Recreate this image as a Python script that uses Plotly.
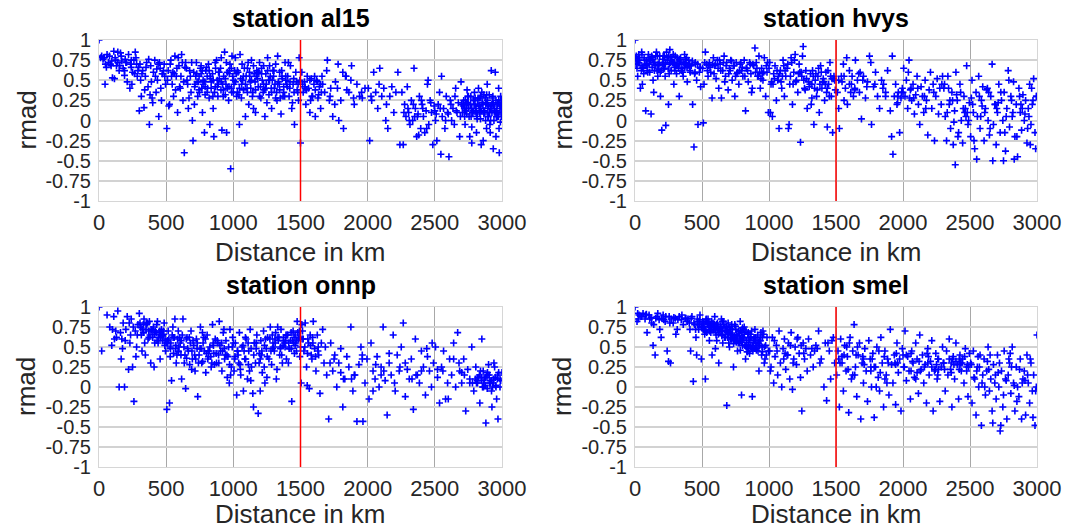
import plotly.graph_objects as go

# ---------------- data ----------------
stations = ["al15", "hvys", "onnp", "smel"]
x_ticks = [0, 500, 1000, 1500, 2000, 2500, 3000]
y_ticks = [-1, -0.75, -0.5, -0.25, 0, 0.25, 0.5, 0.75, 1]
y_tick_text = ["-1", "-0.75", "-0.5", "-0.25", "0", "0.25", "0.5", "0.75", "1"]
threshold_km = 1500

al15_km = [
    0, 20, 30, 45, 60, 70, 85, 100, 110, 120,
    130, 140, 150, 160, 170, 180, 190, 200, 210, 220,
    230, 240, 250, 260, 270, 280, 290, 35, 55, 95,
    115, 165, 205, 245, 285,
    300, 305, 315, 325, 335, 345, 355, 365, 375, 385,
    395, 405, 415, 425, 435, 445, 455, 465, 475, 485,
    495, 310, 340, 370, 400, 430, 460, 490, 380, 450,
    505, 515, 525, 535, 545, 555, 565, 575, 585, 595,
    605, 615, 625, 635, 645, 655, 665, 675, 685, 695,
    510, 530, 550, 570, 590, 610, 630, 650, 670, 690,
    520, 560, 600, 640, 700,
    705, 715, 725, 735, 745, 755, 765, 775, 785, 795,
    805, 815, 825, 835, 845, 855, 865, 875, 885, 895,
    905, 915, 925, 935, 945, 955, 965, 975, 985, 995,
    710, 740, 770, 800, 830, 860, 890, 920, 950, 980,
    720, 760, 790, 820, 850, 880, 910, 940, 970, 990,
    1005, 1015, 1025, 1035, 1045, 1055, 1065, 1075, 1085, 1095,
    1105, 1115, 1125, 1135, 1145, 1155, 1165, 1175, 1185, 1195,
    1205, 1215, 1225, 1235, 1245, 1255, 1265, 1275, 1285, 1295,
    1305, 1315, 1325, 1335, 1345, 1355, 1365, 1375, 1385, 1395,
    1010, 1050, 1090, 1130, 1170, 1210, 1250, 1290, 1330, 1370,
    1030, 1070, 1110, 1150, 1190, 1230, 1270, 1310, 1350, 1390,
    1405, 1415, 1425, 1435, 1445, 1455, 1465, 1475, 1485, 1495,
    1410, 1440, 1470, 1490, 1500,
    1510, 1520, 1530, 1540, 1550, 1560, 1570, 1580, 1590, 1600,
    1610, 1620, 1630, 1640, 1650, 1660, 1680, 1700, 1720, 1740,
    1760, 1780, 1800, 1820, 1840, 1860, 1880, 1900, 1920, 1940,
    1960, 1980, 1515, 1545, 1575, 1605, 1635, 1665, 1695, 1725,
    1755, 1785, 1815, 1845, 1875,
    2005, 2015, 2030, 2045, 2060, 2075, 2090, 2105, 2120, 2135,
    2150, 2165, 2180, 2195, 2210, 2225, 2240, 2025, 2085, 2140,
    2255, 2265, 2275, 2285, 2295, 2305, 2315, 2325, 2335, 2345,
    2355, 2365, 2375, 2385, 2395, 2405, 2415, 2425, 2435, 2445,
    2455, 2465, 2475, 2485, 2495, 2505, 2515, 2525, 2535, 2545,
    2555, 2565, 2575, 2585, 2595, 2605, 2615, 2625, 2635, 2645,
    2655, 2665, 2675, 2685, 2695, 2300, 2350, 2400, 2450, 2500,
    2550, 2600, 2650, 2700, 2380,
    2705, 2715, 2725, 2735, 2745, 2755, 2765, 2775, 2785, 2795,
    2805, 2815, 2825, 2835, 2845, 2855, 2865, 2875, 2885, 2895,
    2905, 2915, 2925, 2935, 2945, 2955, 2965, 2975, 2985, 2995,
    2710, 2730, 2750, 2770, 2790, 2810, 2830, 2850, 2870, 2890,
    2910, 2930, 2950, 2970, 2990, 2720, 2760, 2800, 2840, 2880,
    2920, 2960, 3000, 2740, 2780, 2820, 2860, 2900, 2940, 2980,
    2745, 2805, 2865, 2925, 2985, 2775, 2835, 2895, 2955, 2995,
    12, 48, 78, 125, 155, 195, 235, 265, 275, 295,
    320, 350, 390, 420, 440, 470, 480, 540, 580, 620,
    660, 680, 712, 728, 748, 768, 788, 808, 828, 848,
    868, 888, 908, 928, 948, 968, 988, 1002, 1022, 1042,
    1062, 1082, 1102, 1122, 1142, 1162, 1182, 1202, 1222, 1242,
    1262, 1282, 1302, 1322, 1342, 1362, 1382, 1402, 1422, 1452,
    1482, 1535, 1585, 1625, 1655, 1715, 1775, 1835, 1895, 1955,
    2270, 2310, 2340, 2370, 2410, 2440, 2470, 2510, 2540, 2580,
    2620, 2660, 2690, 2712, 2728, 2738, 2752, 2768, 2782, 2798,
    2812, 2822, 2838, 2852, 2862, 2878, 2892, 2908, 2918, 2932,
    2942, 2958, 2968, 2978, 2992, 2998, 2802, 2858, 2912, 2962,
    730, 745, 760, 775, 790, 805, 820, 835, 850, 865,
    880, 895, 910, 925, 940, 955, 970, 985, 1000, 1015,
    1030, 1045, 1060, 1075, 1090, 1105, 1120, 1135, 1150, 1165,
    1180, 1195, 1210, 1225, 1240, 1255, 1270, 1285, 1300, 1315,
    1330, 1345, 1360, 1375, 1390, 1420, 1450, 1480, 1530, 1570,
    1610, 1650, 40, 90, 140, 190, 240, 2722, 2748, 2772,
    2788, 2808, 2828, 2842, 2868, 2882, 2898, 2914, 2928, 2948,
    2964, 2976, 2988, 2996, 2736, 2816, 2846, 2886, 2936, 2972,
]
al15_rmad = [
    1.00, 0.80, 0.76, 0.45, 0.82, 0.72, 0.70, 0.53, 0.86, 0.78,
    0.68, 0.85, 0.62, 0.84, 0.74, 0.65, 0.56, 0.72, 0.48, 0.82,
    0.40, 0.66, 0.60, 0.75, 0.85, 0.70, 0.62, 0.78, 0.66, 0.74,
    0.52, 0.80, 0.72, 0.45, 0.55,
    0.12, 0.70, 0.30, 0.62, 0.16, 0.55, 0.72, 0.42, -0.05, 0.68,
    0.28, 0.60, 0.75, 0.35, 0.50, 0.05, 0.65, 0.25, 0.58, 0.70,
    0.45, 0.50, 0.38, 0.76, 0.22, 0.64, 0.40, 0.55, 0.32, 0.72,
    -0.10, 0.62, 0.20, 0.75, 0.45, 0.30, 0.80, 0.55, 0.10, 0.68,
    0.40, 0.82, 0.25, -0.40, 0.72, 0.50, 0.15, 0.62, 0.35, 0.00,
    0.50, 0.70, 0.60, 0.38, 0.78, 0.55, 0.48, 0.65, 0.28, 0.72,
    0.18, 0.58, 0.42, 0.66, -0.25,
    0.60, 0.45, 0.72, 0.30, 0.55, 0.65, 0.40, 0.50, -0.15, 0.62,
    0.35, 0.70, -0.05, 0.48, 0.58, -0.20, 0.42, 0.75, 0.30, 0.52,
    0.65, -0.12, 0.38, 0.85, 0.45, 0.60, 0.25, 0.70, 0.40, 0.55,
    0.20, 0.48, 0.10, 0.66, 0.52, 0.35, 0.60, 0.45, -0.15, -0.60,
    0.55, 0.68, 0.42, 0.28, 0.15, 0.50, 0.78, 0.32, 0.62, 0.80,
    0.45, 0.78, 0.30, 0.60, -0.05, 0.52, 0.70, 0.38, -0.28, 0.55,
    0.65, 0.20, 0.48, 0.75, 0.35, 0.58, 0.10, 0.62, 0.42, 0.72,
    0.28, 0.50, 0.68, 0.05, 0.45, 0.78, 0.32, 0.55, 0.15, 0.62,
    0.40, 0.70, 0.25, 0.48, 0.60, 0.08, 0.52, 0.35, 0.72, 0.45,
    0.62, 0.82, 0.05, 0.40, 0.55, 0.65, 0.22, 0.50, 0.80, 0.30,
    0.35, 0.50, 0.72, 0.15, 0.60, 0.38, 0.68, 0.45, 0.28, 0.55,
    0.55, 0.30, 0.68, 0.15, 0.45, -0.05, 0.60, 0.38, 0.25, 0.50,
    0.72, 0.22, 0.48, 0.78, -0.28,
    0.60, 0.35, 0.48, 0.20, 0.55, 0.40, 0.10, 0.52, 0.30, 0.45,
    0.05, 0.50, 0.28, 0.42, 0.15, 0.55, 0.35, 0.75, 0.30, 0.05,
    0.48, 0.70, 0.25, -0.10, 0.55, 0.35, 0.68, 0.20, 0.45, 0.30,
    0.28, 0.40, 0.45, 0.38, 0.25, 0.55, 0.32, 0.45, 0.62, 0.40,
    0.20, 0.00, 0.60, 0.38, 0.50,
    0.40, -0.25, 0.25, 0.60, 0.35, 0.15, 0.65, 0.30, 0.40, 0.00,
    -0.10, 0.30, 0.42, 0.10, 0.35, 0.60, -0.30, 0.30, 0.45, 0.20,
    0.35, -0.30, 0.20, 0.05, 0.42, 0.10, -0.05, 0.25, 0.00, 0.65,
    0.15, -0.20, 0.08, 0.30, -0.10, 0.20, 0.05, -0.15, 0.12, 0.45,
    -0.05, 0.25, 0.10, -0.30, 0.18, 0.00, -0.25, 0.20, 0.35, -0.42,
    0.05, 0.15, -0.10, 0.30, 0.10, -0.45, 0.25, 0.00, 0.15, -0.05,
    0.40, 0.10, 0.22, -0.20, 0.48, 0.15, 0.05, 0.25, 0.50, 0.12,
    0.55, 0.08, 0.30, 0.20, -0.18,
    0.10, 0.25, -0.05, 0.15, 0.30, 0.05, 0.20, -0.28, 0.12, 0.35,
    0.18, 0.02, 0.40, 0.10, -0.30, 0.22, 0.08, 0.28, -0.10, 0.15,
    0.32, 0.00, 0.20, -0.35, 0.12, 0.25, 0.05, 0.40, 0.15, 0.10,
    0.20, 0.12, 0.30, 0.05, 0.25, -0.15, 0.18, 0.35, 0.10, 0.45,
    -0.05, 0.22, 0.60, 0.08, 0.30, 0.15, -0.20, 0.28, 0.02, 0.20,
    0.62, 0.12, 0.05, 0.38, 0.10, 0.25, -0.25, 0.18, 0.00, -0.40,
    0.22, 0.15, 0.32, 0.10, 0.20, -0.08, 0.28, 0.05, -0.20, 0.25,
    0.78, 0.70, 0.80, 0.75, 0.68, 0.76, 0.70, 0.58, 0.78, 0.66,
    0.58, 0.66, 0.48, 0.55, 0.70, 0.58, 0.62, 0.55, 0.65, 0.72,
    0.45, 0.55, 0.42, 0.58, 0.35, 0.62, 0.48, 0.40, 0.55, 0.30,
    0.65, 0.45, 0.38, 0.55, 0.72, 0.42, 0.35, 0.50, 0.58, 0.32,
    0.45, 0.65, 0.40, 0.55, 0.30, 0.48, 0.60, 0.42, 0.35, 0.58,
    0.50, 0.40, 0.62, 0.35, 0.45, 0.55, 0.30, 0.42, 0.48, 0.35,
    0.45, 0.40, 0.30, 0.48, 0.35, 0.25, 0.40, 0.55, 0.28, 0.35,
    0.10, 0.00, 0.20, 0.05, 0.15, -0.10, 0.22, 0.08, 0.15, 0.00,
    0.20, 0.12, 0.05, 0.18, 0.25, 0.08, 0.15, 0.30, 0.10, 0.20,
    0.05, 0.28, 0.15, 0.22, 0.12, 0.00, 0.25, 0.10, 0.18, 0.30,
    0.15, 0.05, 0.22, -0.10, 0.18, 0.05, 0.12, 0.20, -0.15, 0.08,
    0.48, 0.38, 0.58, 0.45, 0.32, 0.55, 0.62, 0.40, 0.50, 0.72,
    0.42, 0.60, 0.48, 0.30, 0.52, 0.40, 0.58, 0.65, 0.35, 0.48,
    0.62, 0.40, 0.28, 0.55, 0.45, 0.35, 0.60, 0.50, 0.68, 0.38,
    0.52, 0.30, 0.58, 0.45, 0.40, 0.62, 0.50, 0.35, 0.55, 0.28,
    0.45, 0.38, 0.62, 0.42, 0.50, 0.40, 0.52, 0.35, 0.42, 0.50,
    0.38, 0.45, 0.78, 0.68, 0.72, 0.62, 0.75, 0.05, 0.20, 0.15,
    0.25, 0.10, 0.18, 0.30, 0.12, 0.22, 0.05, 0.15, 0.28, 0.10,
    0.18, 0.25, -0.02, 0.15, 0.22, 0.08, 0.12, 0.32, 0.20, 0.05,
]

hvys_km = [
    0, 10, 20, 30, 40, 50, 60, 70, 80, 90,
    100, 110, 120, 130, 140, 150, 160, 170, 180, 190,
    200, 210, 220, 230, 240, 250, 260, 270, 280, 290,
    300, 310, 320, 330, 340, 350, 360, 370, 380, 390,
    400, 410, 420, 430, 440, 450, 460, 470, 480, 490,
    15, 35, 55, 75, 95, 115, 135, 155, 175, 195,
    215, 235, 255, 275, 295, 315, 335, 355, 375, 395,
    25, 65, 105, 145, 185, 225, 265, 305, 345, 385,
    505, 515, 525, 535, 545, 555, 565, 575, 585, 595,
    605, 615, 625, 635, 645, 655, 665, 675, 685, 695,
    705, 715, 725, 735, 745, 755, 765, 775, 785, 795,
    805, 815, 825, 835, 845, 855, 865, 875, 885, 895,
    510, 550, 590, 630, 670, 710, 750, 790, 830, 870,
    905, 915, 925, 935, 945, 955, 965, 975, 985, 995,
    1005, 1015, 1025, 1035, 1045, 1055, 1065, 1075, 1085, 1095,
    1105, 1115, 1125, 1135, 1145, 1155, 1165, 1175, 1185, 1195,
    1205, 1215, 1225, 1235, 1245, 1255, 1265, 1275, 1285, 1295,
    910, 950, 990, 1030, 1070, 1110, 1150, 1190, 1230, 1270,
    930, 1010, 1090, 1170, 1250,
    1305, 1315, 1325, 1335, 1345, 1355, 1365, 1375, 1385, 1395,
    1405, 1415, 1425, 1435, 1445, 1455, 1465, 1475, 1485, 1495,
    1310, 1340, 1370, 1400, 1430, 1460, 1490, 1320, 1380, 1440,
    1510, 1525, 1540, 1555, 1570, 1585, 1600, 1615, 1630, 1645,
    1660, 1675, 1690, 1705, 1720, 1735, 1750, 1765, 1780, 1795,
    1810, 1825, 1840, 1855, 1870, 1885, 1520, 1560, 1600, 1640,
    1680, 1520, 1580, 1620, 1760,
    1905, 1915, 1925, 1935, 1945, 1955, 1965, 1975, 1985, 1995,
    2005, 2015, 2025, 2035, 2045, 2055, 2065, 2075, 2085, 2095,
    2105, 2115, 2125, 2135, 2145, 2155, 2165, 2175, 2185, 2195,
    2205, 2215, 2225, 2235, 2245, 2255, 2265, 2275, 2285, 2295,
    1920, 1960, 2000, 2040, 2080,
    2305, 2315, 2325, 2335, 2345, 2355, 2365, 2375, 2385, 2395,
    2405, 2415, 2425, 2435, 2445, 2455, 2465, 2475, 2485, 2495,
    2505, 2515, 2525, 2535, 2545, 2555, 2565, 2575, 2585, 2595,
    2605, 2615, 2625, 2635, 2645, 2655, 2665, 2675, 2685, 2695,
    2705, 2715, 2725, 2735, 2745, 2755, 2765, 2775, 2785, 2795,
    2805, 2815, 2825, 2835, 2845, 2855, 2865, 2875, 2885, 2895,
    2905, 2915, 2925, 2935, 2945, 2955, 2965, 2975, 2985, 2995,
    2310, 2350, 2390, 2430, 2470, 2510, 2550, 2590, 2630, 2670,
    2710, 2750, 2790, 2830, 2870, 2910, 2950, 2990, 2380, 2480,
    5, 45, 85, 125, 165, 205, 245, 285, 325, 365,
    405, 445, 485, 12, 52, 92, 132, 172, 212, 252,
    292, 332, 372, 412, 452, 540, 580, 620, 660, 700,
    740, 780, 820, 860, 900, 940, 980, 1020, 1060, 1100,
    1140, 1180, 1220, 1260, 1300, 1330, 1360, 1390, 1420, 1450,
    1480, 1545, 1610, 1670, 1730, 1850, 1990, 2050, 2110, 2170,
    2230, 2290, 2330, 2370, 2410, 2450, 2490, 2530, 2570, 2610,
    2650, 2690, 2730, 2770, 2810, 2850, 2890, 2930, 2970, 2998,
    8, 28, 48, 68, 88, 108, 128, 148, 168, 188,
    208, 228, 248, 268, 288, 308, 328, 348, 368, 388,
    408, 428, 448, 468, 488, 520, 560, 600, 640, 680,
    720, 760, 800, 840, 880, 920, 960, 1000, 1040, 1080,
    1120, 1160, 1200, 1240, 1280, 1320, 1350, 1410, 1435, 1470,
    18, 58, 98, 138, 178, 218, 258, 298, 338, 378,
    2340, 2400, 2460, 2520, 2580, 2640, 2700, 2760, 2820, 2880,
    2940, 2960, 2160, 2060, 1960, 1870, 1790, 1700, 1640, 1560,
]
hvys_rmad = [
    1.00, 0.80, 0.55, 0.72, 0.40, 0.85, 0.65, 0.75, 0.12, 0.70,
    0.82, 0.60, 0.08, 0.78, 0.35, 0.68, 0.85, 0.55, 0.72, 0.30,
    -0.12, 0.80, 0.65, -0.06, 0.75, 0.20, 0.88, 0.62, 0.72, 0.45,
    0.80, 0.58, 0.70, 0.30, 0.78, 0.65, 0.55, 0.82, 0.72, 0.48,
    0.75, 0.62, 0.68, 0.20, -0.33, 0.72, 0.50, -0.05, 0.60, 0.42,
    0.65, 0.78, 0.45, 0.70, 0.60, 0.75, 0.50, 0.80, 0.68, 0.62,
    0.72, 0.85, 0.58, 0.74, 0.66, 0.78, 0.70, 0.60, 0.76, 0.68,
    0.75, 0.58, 0.70, 0.62, 0.80, 0.55, 0.72, 0.68, 0.62, 0.78,
    0.65, 0.45, 0.85, 0.70, 0.55, 0.72, 0.60, 0.28, 0.78, 0.68,
    0.52, 0.75, 0.40, 0.70, 0.28, 0.62, 0.80, 0.55, 0.72, 0.38,
    0.65, 0.75, 0.50, 0.68, 0.30, 0.72, 0.60, 0.45, 0.70, 0.62,
    0.55, 0.75, 0.12, 0.65, 0.48, 0.72, 0.58, 0.40, 0.68, 0.90,
    -0.03, 0.68, 0.58, 0.75, 0.48, 0.62, 0.55, 0.72, 0.65, 0.35,
    0.72, 0.55, 0.80, 0.40, 0.65, 0.50, 0.78, 0.30, 0.60, 0.10,
    0.72, 0.45, 0.05, 0.58, 0.68, 0.25, 0.50, -0.10, 0.62, 0.40,
    0.75, 0.30, 0.55, 0.65, -0.10, 0.45, 0.78, 0.20, 0.60, 0.82,
    0.50, 0.35, 0.70, -0.27, 0.55, 0.92, 0.40, 0.62, 0.15, 0.48,
    0.65, 0.58, 0.72, 0.45, 0.55, 0.68, -0.05, 0.75, 0.60, 0.38,
    0.60, 0.10, 0.48, 0.72, 0.80,
    0.45, 0.20, 0.62, -0.05, 0.50, 0.30, 0.55, 0.10, 0.68, 0.40,
    0.52, 0.25, 0.60, -0.08, 0.45, 0.72, 0.30, -0.15, 0.55, 0.38,
    0.58, 0.40, 0.65, 0.48, 0.35, 0.55, 0.50, 0.28, 0.45, 0.62,
    0.35, -0.10, 0.55, 0.70, 0.40, 0.20, 0.62, 0.45, 0.30, 0.75,
    0.50, 0.35, 0.02, 0.55, 0.28, 0.48, 0.80, -0.05, 0.42, 0.60,
    0.30, 0.15, 0.50, 0.45, 0.30, 0.62, 0.50, 0.25, 0.45, 0.38,
    0.60, 0.15, 0.78, 0.55, 0.72,
    0.12, -0.20, -0.42, 0.30, 0.45, 0.20, 0.35, -0.15, 0.28, 0.40,
    0.65, 0.30, 0.50, 0.15, 0.75, 0.38, 0.25, 0.45, 0.08, 0.32,
    0.55, 0.20, -0.05, 0.42, 0.30, 0.10, 0.50, 0.25, -0.18, 0.38,
    0.60, 0.15, 0.45, -0.25, 0.30, 0.52, 0.08, 0.40, 0.20, 0.55,
    0.80, 0.22, 0.35, 0.60, 0.28,
    0.40, 0.05, -0.25, 0.55, 0.20, -0.10, 0.35, -0.30, 0.12, 0.60,
    0.25, -0.15, 0.45, 0.00, -0.28, 0.30, 0.15, 0.68, -0.05, 0.22,
    -0.20, 0.50, 0.10, -0.35, 0.35, 0.05, 0.55, -0.10, 0.25, 0.42,
    -0.25, 0.15, 0.38, 0.00, -0.18, 0.30, 0.70, -0.05, 0.20, -0.30,
    0.10, 0.45, -0.15, 0.25, 0.00, 0.35, -0.38, 0.15, 0.62, -0.08,
    0.30, 0.05, 0.48, -0.20, 0.20, -0.45, 0.40, 0.10, -0.12, 0.32,
    0.00, 0.25, -0.28, 0.15, 0.45, -0.05, 0.20, 0.52, -0.15, 0.30,
    0.45, 0.25, -0.55, 0.35, 0.05, 0.28, -0.48, 0.18, 0.40, -0.50,
    0.22, -0.50, 0.50, -0.48, 0.30, 0.08, -0.30, -0.35, -0.02, 0.10,
    0.78, 0.68, 0.75, 0.80, 0.62, 0.70, 0.78, 0.82, 0.65, 0.72,
    0.70, 0.58, 0.66, 0.70, 0.82, 0.62, 0.76, 0.70, 0.64, 0.80,
    0.72, 0.76, 0.66, 0.60, 0.70, 0.62, 0.70, 0.65, 0.72, 0.58,
    0.68, 0.62, 0.55, 0.70, 0.60, 0.52, 0.68, 0.48, 0.62, 0.55,
    0.70, 0.45, 0.58, 0.50, 0.42, 0.55, 0.38, 0.60, 0.45, 0.30,
    0.52, 0.48, 0.35, 0.58, 0.42, 0.40, 0.35, 0.28, 0.40, 0.15,
    0.35, 0.45, 0.10, 0.25, -0.20, 0.15, 0.00, -0.25, 0.30, 0.10,
    -0.10, 0.20, 0.35, 0.05, 0.25, -0.20, 0.15, -0.10, 0.25, 0.30,
    0.70, 0.82, 0.62, 0.78, 0.68, 0.74, 0.66, 0.72, 0.80, 0.60,
    0.76, 0.70, 0.64, 0.78, 0.72, 0.68, 0.74, 0.62, 0.70, 0.66,
    0.68, 0.74, 0.60, 0.70, 0.65, 0.72, 0.66, 0.70, 0.62, 0.68,
    0.74, 0.58, 0.66, 0.62, 0.70, 0.55, 0.60, 0.65, 0.52, 0.58,
    0.62, 0.55, 0.48, 0.60, 0.52, 0.45, 0.58, 0.48, 0.40, 0.52,
    0.74, 0.66, 0.78, 0.72, 0.64, 0.80, 0.70, 0.62, 0.74, 0.70,
    0.40, 0.32, 0.10, 0.20, 0.05, 0.35, 0.15, -0.15, 0.10, 0.20,
    0.05, 0.40, 0.30, 0.40, 0.30, 0.35, 0.45, 0.50, 0.40, 0.55,
]

onnp_km = [
    0, 20, 60, 80, 95, 110, 125, 140, 150, 160,
    170, 180, 190, 200, 210, 220, 230, 240, 250, 260,
    270, 280, 290, 300, 100, 130, 165, 195, 225, 255,
    285, 115, 175, 235, 275,
    305, 315, 325, 335, 345, 355, 365, 375, 385, 395,
    405, 415, 425, 435, 445, 455, 465, 475, 485, 495,
    505, 515, 525, 535, 545, 555, 565, 575, 585, 595,
    310, 340, 370, 400, 430, 460, 490, 520, 550, 580,
    320, 360, 410, 450, 480, 510, 540, 570, 600, 330,
    390, 440, 470, 530, 590,
    605, 615, 625, 635, 645, 655, 665, 675, 685, 695,
    705, 715, 725, 735, 745, 755, 765, 775, 785, 795,
    805, 815, 825, 835, 845, 855, 865, 875, 885, 895,
    905, 915, 925, 935, 945, 955, 965, 975, 985, 995,
    610, 650, 690, 730, 770, 810, 850, 890, 930, 970,
    620, 660, 700, 740, 780, 820, 860, 900, 940, 980,
    1005, 1015, 1025, 1035, 1045, 1055, 1065, 1075, 1085, 1095,
    1105, 1115, 1125, 1135, 1145, 1155, 1165, 1175, 1185, 1195,
    1205, 1215, 1225, 1235, 1245, 1255, 1265, 1275, 1285, 1295,
    1305, 1315, 1325, 1335, 1345, 1355, 1365, 1375, 1385, 1395,
    1405, 1415, 1425, 1435, 1445, 1455, 1465, 1475, 1485, 1495,
    1010, 1050, 1090, 1130, 1170, 1210, 1250, 1290, 1330, 1370,
    1410, 1450, 1490, 1350, 1390, 1430, 1470, 1310, 1150, 1200,
    1030, 1110, 1230, 1320, 1460,
    1505, 1515, 1525, 1535, 1545, 1555, 1565, 1575, 1585, 1595,
    1605, 1615, 1625, 1635, 1645, 1655, 1665, 1675, 1685, 1695,
    1510, 1550, 1590, 1630, 1560,
    1710, 1725, 1740, 1755, 1770, 1785, 1800, 1815, 1830, 1845,
    1860, 1875, 1890, 1905, 1920, 1935, 1950, 1965, 1980, 1995,
    2010, 2025, 2040, 2055, 2070, 2085, 2100, 2115, 2130, 2145,
    2160, 2175, 2190, 2205, 2220, 2235, 2250, 2265, 2280, 2295,
    2310, 2325, 2340, 2355, 2370, 2385, 2400, 2415, 2430, 2445,
    2460, 2475, 2490, 2505, 2520, 2535, 2550, 2565, 2580, 2595,
    2610, 2625, 2640, 2655, 2670, 2685, 2700, 2715, 2730, 2745,
    2760, 2775, 2790, 2805, 2820, 2835, 2850, 2865, 2880, 2895,
    2910, 2925, 2940, 2955, 2970, 2985, 3000, 2810, 2840, 2870,
    2900, 2930, 2960, 2990, 2825, 2855, 2885, 2915, 2945, 2975,
    1720, 1800, 1880, 1960, 2040, 2120, 2200, 2280, 2360, 2440,
    2520, 2600, 2680, 2760, 1750, 1900, 2060, 2160, 2330, 2480,
    330, 350, 380, 420, 440, 460, 480, 500, 530, 560,
    590, 640, 680, 720, 760, 800, 840, 880, 920, 960,
    1000, 1040, 1080, 1120, 1160, 1200, 1240, 1280, 1300, 1340,
    1360, 1380, 1400, 1420, 1440, 1460, 1480, 1500, 1520, 1580,
    2802, 2818, 2832, 2848, 2862, 2878, 2892, 2908, 2922, 2938,
    2952, 2968, 2560, 2640, 2720, 2400, 2240, 2100, 1960, 1820,
    312, 332, 352, 372, 392, 412, 432, 452, 472, 492,
    512, 532, 552, 572, 592, 612, 632, 652, 672, 692,
    712, 732, 752, 772, 792, 812, 832, 852, 872, 892,
    912, 932, 952, 972, 992, 1012, 1032, 1052, 1072, 1092,
    1112, 1132, 1152, 1172, 1192, 1212, 1232, 1252, 1272, 1292,
    1312, 1332, 1352, 1372, 1392, 1412, 1432, 1452, 1472, 1492,
    1512, 1532, 1552, 1572, 1592, 1612, 1632, 2815, 2845, 2875,
    2905, 2935, 2965, 2985, 2860, 2890, 2920, 2950, 2780, 2700,
]
onnp_rmad = [
    1.00, 0.45, 0.90, 0.75, 0.52, 0.88, 0.70, 0.95, 0.00, 0.68,
    0.60, 0.80, 0.00, 0.72, 0.88, 0.22, 0.55, 0.85, 0.25, -0.18,
    0.70, 0.50, 0.78, 0.92, 0.72, 0.62, 0.35, 0.58, 0.80, 0.75,
    0.65, 0.60, 0.48, 0.65, 0.38,
    0.80, 0.65, 0.72, 0.85, 0.40, 0.78, 0.60, 0.82, 0.30, 0.70,
    0.75, 0.55, 0.68, 0.82, 0.62, 0.35, 0.72, 0.58, 0.80, 0.45,
    -0.28, 0.70, -0.20, 0.55, 0.65, 0.42, 0.85, 0.30, 0.60, 0.50,
    0.75, 0.55, 0.70, 0.62, 0.78, 0.68, 0.52, 0.60, 0.75, 0.40,
    0.45, 0.80, 0.25, 0.65, 0.70, 0.58, 0.08, 0.48, 0.62, 0.68,
    0.72, 0.55, 0.65, 0.38, 0.70,
    0.55, 0.10, 0.85, 0.30, -0.02, 0.62, 0.45, 0.28, 0.70, 0.35,
    0.52, 0.20, 0.60, -0.12, 0.40, 0.75, 0.30, 0.55, 0.45, 0.18,
    0.65, 0.38, 0.50, 0.25, 0.78, 0.42, 0.60, 0.30, 0.55, 0.82,
    0.45, 0.20, 0.68, 0.35, 0.58, 0.12, 0.50, 0.72, 0.25, 0.62,
    0.40, 0.60, 0.22, 0.48, 0.68, 0.35, 0.55, 0.40, 0.72, 0.05,
    0.65, 0.48, 0.58, 0.30, 0.62, 0.45, 0.28, 0.52, 0.40, 0.15,
    0.20, 0.55, -0.10, 0.40, 0.68, 0.15, 0.50, -0.05, 0.35, 0.60,
    0.10, 0.45, 0.72, 0.25, -0.08, 0.55, 0.30, 0.65, -0.33, 0.42,
    0.58, 0.18, 0.70, 0.05, 0.48, 0.62, 0.35, 0.75, 0.28, 0.55,
    0.45, 0.68, 0.22, 0.58, 0.40, 0.72, 0.30, 0.62, 0.50, 0.35,
    0.65, 0.48, 0.58, -0.18, 0.70, 0.42, 0.55, 0.82, 0.60, 0.38,
    0.35, 0.28, 0.62, 0.08, 0.48, 0.40, 0.12, 0.65, 0.75, 0.52,
    0.30, 0.55, 0.62, 0.48, 0.58, 0.68, 0.45, 0.60, -0.25, -0.05,
    0.45, 0.55, 0.25, 0.10, 0.65,
    0.05, 0.70, 0.45, 0.80, 0.25, 0.60, -0.02, 0.52, 0.35, 0.82,
    0.48, 0.20, 0.65, 0.40, -0.08, 0.55, 0.72, 0.30, 0.50, 0.15,
    0.78, 0.02, 0.62, 0.45, 0.55,
    -0.40, 0.55, 0.20, 0.40, 0.00, 0.30, 0.48, -0.25, 0.10, 0.38,
    0.25, 0.75, -0.05, 0.15, -0.43, 0.28, 0.50, -0.43, 0.05, 0.35,
    -0.15, 0.55, 0.20, 0.10, 0.38, 0.00, 0.25, 0.75, 0.08, -0.35,
    0.30, 0.15, 0.65, -0.05, 0.40, 0.20, 0.50, 0.80, -0.12, 0.22,
    0.10, 0.35, -0.28, 0.60, 0.15, 0.05, 0.45, 0.25, -0.10, 0.38,
    0.20, 0.00, 0.30, 0.50, 0.12, -0.20, 0.25, 0.45, -0.15, 0.05,
    0.35, 0.15, 0.55, 0.00, 0.68, 0.20, 0.05, 0.35, -0.30, 0.22,
    0.10, 0.50, -0.05, 0.25, 0.12, -0.20, 0.60, 0.05, -0.45, 0.15,
    0.08, -0.25, 0.30, 0.00, -0.40, 0.10, 0.18, 0.05, 0.20, 0.10,
    0.28, 0.00, -0.15, 0.08, 0.12, 0.00, 0.15, 0.05, 0.25, 0.18,
    0.30, 0.18, 0.10, 0.40, -0.05, 0.20, 0.05, 0.30, 0.15, 0.48,
    0.22, -0.15, 0.30, 0.05, 0.35, 0.15, 0.28, 0.42, 0.10, 0.55,
    0.78, 0.72, 0.65, 0.70, 0.58, 0.62, 0.66, 0.55, 0.50, 0.62,
    0.45, 0.40, 0.55, 0.35, 0.48, 0.42, 0.30, 0.58, 0.45, 0.38,
    0.55, 0.30, 0.45, 0.20, 0.55, 0.35, 0.60, 0.45, 0.50, 0.62,
    0.40, 0.55, 0.65, 0.48, 0.58, 0.52, 0.68, 0.50, 0.60, 0.40,
    0.10, 0.05, 0.15, 0.08, 0.00, 0.12, 0.18, 0.05, -0.05, 0.10,
    0.02, 0.15, 0.20, 0.35, 0.15, 0.20, 0.25, 0.15, 0.35, 0.10,
    0.74, 0.68, 0.80, 0.62, 0.72, 0.66, 0.58, 0.70, 0.64, 0.60,
    0.55, 0.48, 0.62, 0.52, 0.44, 0.58, 0.50, 0.36, 0.62, 0.45,
    0.40, 0.55, 0.48, 0.32, 0.60, 0.45, 0.38, 0.52, 0.42, 0.30,
    0.55, 0.48, 0.40, 0.28, 0.50, 0.38, 0.45, 0.22, 0.52, 0.35,
    0.28, 0.48, 0.40, 0.55, 0.30, 0.45, 0.52, 0.38, 0.60, 0.48,
    0.55, 0.62, 0.50, 0.58, 0.65, 0.55, 0.48, 0.62, 0.58, 0.70,
    0.60, 0.50, 0.42, 0.65, 0.55, 0.38, 0.50, 0.08, 0.12, 0.02,
    0.15, 0.05, 0.10, 0.00, 0.20, -0.02, 0.08, 0.12, 0.05, 0.18,
]

smel_km = [
    0, 15, 30, 45, 60, 75, 90, 105, 120, 135,
    150, 165, 180, 195, 210, 225, 240, 255, 270, 285,
    300, 315, 330, 345, 360, 375, 390, 20, 50, 80,
    110, 140, 170, 200, 230, 260, 290, 320, 350, 380,
    25, 85, 125, 155, 185, 215, 250, 265, 305, 395,
    405, 415, 425, 435, 445, 455, 465, 475, 485, 495,
    505, 515, 525, 535, 545, 555, 565, 575, 585, 595,
    605, 615, 625, 635, 645, 655, 665, 675, 685, 695,
    705, 715, 725, 735, 745, 755, 765, 775, 785, 795,
    805, 815, 825, 835, 845, 855, 865, 875, 885, 895,
    905, 915, 925, 935, 945, 955, 965, 975, 985, 995,
    410, 440, 470, 500, 530, 560, 590, 620, 650, 680,
    710, 740, 770, 800, 830, 860, 890, 920, 950, 980,
    420, 460, 510, 550, 600, 640, 690, 730, 760, 790,
    820, 850, 880, 910, 940, 970, 480, 520, 570, 610,
    660, 700, 750, 780, 810, 840, 870, 900, 930, 960,
    1005, 1015, 1025, 1035, 1045, 1055, 1065, 1075, 1085, 1095,
    1105, 1115, 1125, 1135, 1145, 1155, 1165, 1175, 1185, 1195,
    1205, 1215, 1225, 1235, 1245, 1255, 1265, 1275, 1285, 1295,
    1310, 1330, 1350, 1370, 1390, 1410, 1430, 1450, 1470, 1490,
    1010, 1060, 1110, 1160, 1210, 1260, 1320, 1380, 1440, 1480,
    1040, 1140, 1240, 1340, 1460,
    1505, 1515, 1525, 1535, 1545, 1555, 1565, 1575, 1585, 1595,
    1605, 1615, 1625, 1635, 1645, 1655, 1665, 1675, 1685, 1695,
    1705, 1715, 1725, 1735, 1745, 1755, 1765, 1775, 1785, 1795,
    1805, 1815, 1825, 1835, 1845, 1855, 1865, 1875, 1885, 1895,
    1905, 1915, 1925, 1935, 1945, 1955, 1965, 1975, 1985, 1995,
    2005, 2015, 2025, 2035, 2045, 2055, 2065, 2075, 2085, 2095,
    2105, 2115, 2125, 2135, 2145, 2155, 2165, 2175, 2185, 2195,
    2205, 2215, 2225, 2235, 2245, 2255, 2265, 2275, 2285, 2295,
    2305, 2315, 2325, 2335, 2345, 2355, 2365, 2375, 2385, 2395,
    2405, 2415, 2425, 2435, 2445, 2455, 2465, 2475, 2485, 2495,
    1520, 1580, 1640, 1700, 1760, 1820, 1880, 1940, 2000, 2060,
    2120, 2180, 2240, 2300, 2360, 2420, 2480, 1600, 1800, 2260,
    2505, 2515, 2525, 2535, 2545, 2555, 2565, 2575, 2585, 2595,
    2605, 2615, 2625, 2635, 2645, 2655, 2665, 2675, 2685, 2695,
    2705, 2715, 2725, 2735, 2745, 2755, 2765, 2775, 2785, 2795,
    2805, 2815, 2825, 2835, 2845, 2855, 2865, 2875, 2885, 2895,
    2905, 2915, 2925, 2935, 2945, 2955, 2965, 2975, 2985, 2995,
    2510, 2550, 2590, 2630, 2670, 2710, 2750, 2790, 2830, 2870,
    2910, 2950, 2990, 3000, 2530, 2570, 2610, 2650, 2690, 2730,
    2770, 2810, 2850, 2890, 2930, 2970, 2560, 2640, 2720, 2800,
    512, 528, 542, 558, 572, 588, 602, 618, 632, 648,
    662, 678, 692, 708, 722, 738, 752, 768, 782, 798,
    812, 828, 842, 858, 872, 888, 902, 918, 932, 948,
    532, 568, 612, 652, 688, 722, 758, 792, 828, 862,
    898, 722, 802, 1120, 1180, 1360, 1420, 1560, 1660, 1760,
    1860, 1960, 2060, 2160, 2260, 2360, 2420, 2440, 2460, 2380,
    452, 468, 482, 498, 508, 522, 538, 552, 566, 582,
    596, 608, 622, 638, 654, 668, 684, 698, 712, 726,
    742, 756, 772, 786, 802, 816, 832, 846, 862, 876,
    892, 906, 922, 936, 952, 966, 546, 596, 646, 696,
    746, 796, 846, 896, 736, 786, 836, 1530, 1590, 1650,
    1710, 1770, 1830, 1890, 1950, 2010, 2070, 2130, 2190, 2250,
    2310, 2370, 2430, 2490, 1545, 1625, 1705, 1785, 1865, 1945,
    2025, 2105, 2185, 2265, 2345, 2425, 2475, 2395, 2215, 2095,
]
smel_rmad = [
    1.00, 0.82, 0.90, 0.88, 0.92, 0.85, 0.68, 0.90, 0.87, 0.52,
    0.40, 0.88, 0.84, 0.62, 0.90, 0.82, 0.45, 0.88, 0.85, 0.80,
    0.86, 0.72, 0.88, 0.84, 0.78, 0.86, 0.82, 0.92, 0.88, 0.90,
    0.85, 0.78, 0.92, 0.86, 0.88, 0.80, 0.87, 0.84, 0.90, 0.86,
    0.85, 0.91, 0.80, 0.86, 0.72, 0.84, 0.32, 0.30, 0.66, 0.85,
    0.80, 0.45, 0.88, 0.07, 0.78, 0.62, 0.85, 0.72, 0.90, 0.35,
    0.82, 0.75, 0.10, 0.68, 0.85, 0.58, 0.78, 0.40, 0.72, 0.88,
    0.65, 0.80, 0.30, 0.70, 0.85, 0.55, 0.75, 0.62, -0.23, 0.80,
    0.50, 0.72, 0.65, 0.25, 0.78, 0.58, 0.45, 0.70, 0.82, -0.10,
    0.60, 0.75, 0.35, 0.52, 0.68, 0.42, 0.62, -0.12, 0.55, 0.72,
    0.48, 0.65, 0.20, 0.58, 0.40, 0.70, 0.30, 0.52, 0.62, 0.45,
    0.72, 0.80, 0.82, 0.76, 0.84, 0.70, 0.78, 0.72, 0.66, 0.74,
    0.68, 0.60, 0.55, 0.62, 0.50, 0.66, 0.48, 0.56, 0.62, 0.40,
    0.86, 0.40, 0.72, 0.80, 0.48, 0.76, 0.70, 0.62, 0.58, 0.70,
    0.52, 0.60, 0.45, 0.50, 0.68, 0.35, 0.78, 0.66, 0.74, 0.58,
    0.82, 0.55, 0.76, 0.64, 0.72, 0.44, 0.70, 0.62, 0.52, 0.66,
    0.45, 0.25, 0.62, 0.05, 0.38, 0.52, 0.15, 0.70, 0.30, 0.00,
    0.48, 0.60, 0.22, 0.40, 0.55, 0.10, 0.68, -0.03, 0.35, 0.50,
    0.28, 0.62, 0.42, 0.12, -0.30, 0.55, 0.35, 0.48, 0.20, 0.60,
    0.40, 0.25, 0.52, 0.70, 0.35, 0.00, -0.17, 0.45, 0.58, 0.30,
    0.20, 0.45, 0.35, 0.52, 0.60, 0.42, 0.48, 0.30, 0.55, 0.62,
    0.58, 0.40, 0.52, 0.45, 0.10,
    0.15, 0.45, -0.25, 0.60, 0.30, -0.05, 0.52, 0.20, 0.38, -0.32,
    0.62, 0.10, 0.45, 0.78, 0.25, -0.12, 0.40, 0.55, -0.40, 0.30,
    0.05, 0.48, 0.20, -0.18, 0.58, 0.35, 0.00, 0.42, -0.38, 0.25,
    0.50, 0.12, -0.05, 0.62, 0.30, -0.25, 0.45, 0.15, 0.35, -0.10,
    0.72, 0.28, 0.05, 0.40, -0.22, 0.55, 0.18, 0.35, -0.30, 0.48,
    0.25, 0.70, 0.08, 0.38, 0.20, -0.15, 0.45, 0.30, 0.12, 0.55,
    0.35, -0.08, 0.65, 0.22, 0.40, 0.05, 0.28, -0.20, 0.48, 0.15,
    0.32, 0.58, -0.30, 0.20, 0.42, 0.10, 0.35, -0.18, 0.25, 0.50,
    0.30, -0.05, 0.45, 0.15, 0.60, 0.22, -0.25, 0.38, 0.10, 0.55,
    0.28, -0.15, 0.40, 0.20, 0.35, 0.05, 0.48, 0.25, -0.12, 0.42,
    0.35, 0.50, 0.15, 0.38, 0.25, 0.45, 0.05, 0.30, 0.40, 0.20,
    0.32, 0.42, 0.22, 0.30, 0.18, 0.35, 0.28, 0.55, 0.00, 0.15,
    0.30, -0.20, 0.45, 0.10, -0.35, 0.25, 0.00, 0.40, -0.48, 0.15,
    0.35, -0.10, 0.20, 0.50, -0.05, 0.10, -0.30, 0.28, 0.05, -0.15,
    0.40, 0.00, -0.55, 0.20, -0.25, 0.45, 0.10, -0.40, 0.15, 0.30,
    -0.08, 0.50, 0.05, -0.30, 0.25, 0.00, -0.12, 0.35, -0.40, 0.10,
    0.20, -0.35, 0.40, 0.05, -0.20, 0.30, -0.05, 0.15, -0.48, 0.00,
    0.28, 0.20, 0.05, 0.32, -0.45, 0.18, -0.10, 0.35, 0.02, 0.22,
    0.08, 0.35, -0.05, 0.65, 0.12, 0.25, 0.00, 0.40, 0.15, -0.48,
    0.08, 0.25, -0.18, 0.05, 0.15, -0.38, 0.38, 0.22, 0.30, 0.42,
    0.80, 0.72, 0.78, 0.70, 0.82, 0.74, 0.68, 0.76, 0.72, 0.64,
    0.78, 0.70, 0.62, 0.74, 0.66, 0.58, 0.72, 0.64, 0.55, 0.68,
    0.62, 0.52, 0.66, 0.56, 0.48, 0.62, 0.55, 0.45, 0.58, 0.50,
    0.85, 0.78, 0.74, 0.82, 0.68, 0.60, 0.66, 0.58, 0.70, 0.50,
    0.60, 0.78, 0.74, 0.42, 0.30, 0.48, 0.55, 0.40, 0.50, 0.20,
    0.38, 0.30, 0.42, 0.25, 0.35, 0.30, 0.22, 0.30, 0.38, 0.28,
    0.72, 0.78, 0.84, 0.74, 0.80, 0.70, 0.82, 0.76, 0.68, 0.80,
    0.72, 0.78, 0.66, 0.74, 0.70, 0.62, 0.76, 0.68, 0.60, 0.72,
    0.64, 0.56, 0.70, 0.60, 0.52, 0.66, 0.58, 0.48, 0.62, 0.52,
    0.58, 0.46, 0.54, 0.62, 0.44, 0.50, 0.80, 0.76, 0.70, 0.66,
    0.62, 0.56, 0.52, 0.48, 0.54, 0.46, 0.44, 0.30, 0.22, 0.40,
    0.28, 0.35, 0.18, 0.30, 0.42, 0.25, 0.32, 0.20, 0.38, 0.28,
    0.22, 0.35, 0.30, 0.25, 0.38, 0.15, 0.35, 0.25, 0.10, 0.28,
    0.40, 0.18, 0.30, 0.22, 0.35, 0.28, 0.20, 0.32, 0.25, 0.10,
]

series = {
    "al15": (al15_km, al15_rmad),
    "hvys": (hvys_km, hvys_rmad),
    "onnp": (onnp_km, onnp_rmad),
    "smel": (smel_km, smel_rmad),
}
for name, (xs, ys) in series.items():
    assert len(xs) == len(ys), (name, len(xs), len(ys))

# ---------------- layout ----------------
W, H = 1066, 530
def px_x(p):
    return p / W
def px_y(p):
    return 1 - p / H

x_dom = [(px_x(99), px_x(502)), (px_x(635), px_x(1037))]
y_dom = [(px_y(201), px_y(40)), (px_y(467), px_y(307))]
FONT = "Liberation Sans, Arial, Helvetica, sans-serif"
TXT = "#262626"

fig = go.Figure()
annotations = []
shapes = []
for i, name in enumerate(stations):
    row, col = divmod(i, 2)
    k = "" if i == 0 else str(i + 1)
    xs, ys = series[name]
    fig.add_trace(go.Scatter(
        x=xs, y=ys, mode="markers", xaxis="x" + k, yaxis="y" + k,
        marker=dict(symbol="cross-thin", size=5, color="#0000ff",
                    line=dict(color="#0000ff", width=1.6)),
        showlegend=False, hoverinfo="x+y",
    ))
    common = dict(showline=True, mirror=True, linecolor="#d6d6d6", linewidth=1,
                  zeroline=False, ticks="outside", tickcolor="rgba(0,0,0,0)",
                  automargin=False)
    fig.layout["xaxis" + k] = dict(
        domain=x_dom[col], anchor="y" + k, range=[0, 3000], tickvals=x_ticks,
        ticklen=2, tickfont=dict(family=FONT, size=22, color=TXT),
        showgrid=True, gridcolor="#a8a8a8", gridwidth=1, **common)
    fig.layout["yaxis" + k] = dict(
        domain=y_dom[row], anchor="x" + k, range=[-1, 1], tickvals=y_ticks,
        ticktext=y_tick_text, ticklen=3, tickfont=dict(family=FONT, size=20, color=TXT),
        showgrid=True, gridcolor="#d2d2d2", gridwidth=1.5, **common)
    shapes.append(dict(type="line", xref="x" + k, yref="y" + k,
                       x0=threshold_km, x1=threshold_km, y0=-1, y1=1,
                       line=dict(color="#ff0000", width=1.5), layer="above"))
    x_mid = (x_dom[col][0] + x_dom[col][1]) / 2
    top = y_dom[row][1]
    bot = y_dom[row][0]
    annotations.append(dict(text="<b>station " + name + "</b>", xref="paper", yref="paper",
                            x=x_mid, y=top + 22 / H, xanchor="center", yanchor="middle",
                            showarrow=False, font=dict(family=FONT, size=25, color="#000000")))
    annotations.append(dict(text="Distance in km", xref="paper", yref="paper",
                            x=x_mid, y=bot - (51 if row == 0 else 47) / H,
                            xanchor="center", yanchor="middle",
                            showarrow=False, font=dict(family=FONT, size=26, color=TXT)))
    annotations.append(dict(text="rmad", xref="paper", yref="paper",
                            x=px_x(26 if col == 0 else 562), y=(top + bot) / 2,
                            xanchor="center", yanchor="middle", textangle=-90,
                            showarrow=False, font=dict(family=FONT, size=26, color=TXT)))

fig.update_layout(
    width=W, height=H, margin=dict(l=0, r=0, t=0, b=0, autoexpand=False),
    paper_bgcolor="white", plot_bgcolor="white",
    annotations=annotations, shapes=shapes,
)
# remove the default 8px page margin so the figure fills the 1066x530 window exactly
fig.write_html("out.html", config={"displayModeBar": False},
               post_script="document.body.style.margin='0';")
